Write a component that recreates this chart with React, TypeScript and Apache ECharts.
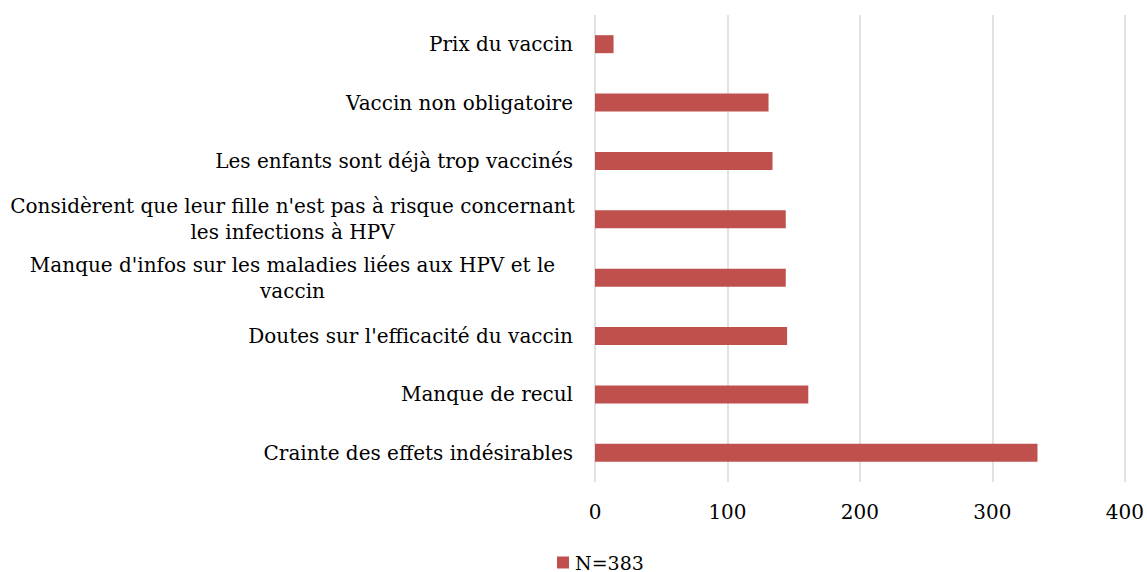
import React, { useEffect, useRef } from "react";
import * as echarts from "echarts";

const categories = [
  "Crainte des effets indésirables",
  "Manque de recul",
  "Doutes sur l'efficacité du vaccin",
  "Manque d'infos sur les maladies liées aux HPV et le\nvaccin",
  "Considèrent que leur fille n'est pas à risque concernant\nles infections à HPV",
  "Les enfants sont déjà trop vaccinés",
  "Vaccin non obligatoire",
  "Prix du vaccin",
];
const values = [334, 161, 145, 144, 144, 134, 131, 14];
const seriesName = "N=383";
const xTicks = [0, 100, 200, 300, 400];

const FONT = "DejaVu Serif";

export default function App() {
  const ref = useRef<HTMLDivElement>(null);
  useEffect(() => {
    document.body.style.margin = "0";
    const chart = echarts.init(ref.current!, null, { renderer: "svg" });
    chart.setOption({
      animation: false,
      backgroundColor: "#ffffff",
      textStyle: { fontFamily: FONT },
      grid: { left: 595, right: 20, top: 15, bottom: 90, containLabel: false },
      xAxis: {
        type: "value",
        min: xTicks[0],
        max: xTicks[xTicks.length - 1],
        interval: 100,
        axisLine: { show: false },
        axisTick: { show: false },
        splitLine: { show: true, lineStyle: { color: "#d9d9d9", width: 1.5 } },
        axisLabel: { color: "#000", fontSize: 20, fontFamily: FONT, margin: 20 },
      },
      yAxis: {
        type: "category",
        data: categories,
        axisLine: { show: false },
        axisTick: { show: false },
        axisLabel: {
          color: "#000",
          fontSize: 20,
          fontFamily: FONT,
          margin: 22,
          lineHeight: 26,
          formatter: (v: string) =>
            v.indexOf("\n") >= 0
              ? v.split("\n").map((l) => `{c|${l}}`).join("\n")
              : v,
          rich: {
            c: { width: 561, align: "center", fontSize: 20, fontFamily: FONT, color: "#000", lineHeight: 26 },
          },
        },
      },
      legend: {
        data: [seriesName],
        left: 552,
        top: 548,
        icon: "rect",
        itemWidth: 12,
        itemHeight: 12,
        itemGap: 4,
        textStyle: { color: "#000", fontSize: 19, fontFamily: FONT, padding: [0, 0, 0, 1] },
      },
      series: [
        {
          name: seriesName,
          type: "bar",
          data: values,
          barWidth: 18,
          itemStyle: { color: "#c0504d" },
        },
      ],
    });
    return () => chart.dispose();
  }, []);
  return <div ref={ref} style={{ width: 1147, height: 572 }} />;
}
